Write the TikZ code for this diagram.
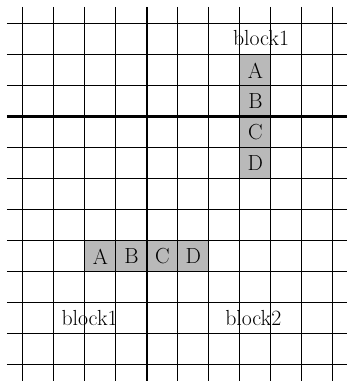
\documentclass[tikz,border=0pt]{standalone}
\usetikzlibrary{positioning}

\begin{document}
\begin{tikzpicture}[x=1cm,y=1cm,
  cellbox/.style={fill=gray!55,minimum size=1cm,inner sep=0pt,outer sep=0pt,font=\fontsize{20}{24}\selectfont},
  lbl/.style={inner sep=0pt,font=\fontsize{20}{24}\selectfont},
  gridline/.style={line width=1pt},
  axisline/.style={line width=2.6pt}]
\useasboundingbox (-4.74,-8.52) rectangle (6.45,3.77);
% block1, vertical
\node[cellbox] (vA) at (3.5,1.5){A};
\node[cellbox,below=0pt of vA] (vB){B};
\node[cellbox,below=0pt of vB] (vC){C};
\node[cellbox,below=0pt of vC] (vD){D};
% block1, horizontal
\node[cellbox] (hA) at (-1.5,-4.5){A};
\node[cellbox,right=0pt of hA] (hB){B};
\node[cellbox,right=0pt of hB] (hC){C};
\node[cellbox,right=0pt of hC] (hD){D};
% grid
\foreach \i in {-4,...,6} \draw[gridline] (\i,3.55)--(\i,-8.52);
\foreach \j in {-8,...,3} \draw[gridline] (-4.52,\j)--(6.45,\j);
\draw[axisline] (0,3.55)--(0,-8.52);
\draw[axisline] (-4.52,0)--(6.45,0);
% labels
\node[lbl] (top) at (3.68,2.55){block1};
\node[lbl] (left) at (-1.85,-6.5){block1};
\node[lbl] (right) at (3.43,-6.5){block2};
\end{tikzpicture}
\end{document}
